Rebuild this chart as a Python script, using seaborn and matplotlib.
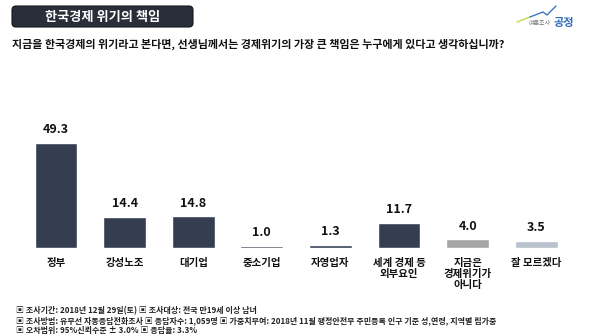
import matplotlib
matplotlib.use("Agg")
import matplotlib.pyplot as plt
from matplotlib.patches import FancyBboxPatch
import seaborn as sns

# Survey results (%)
categories = ["정부", "강성노조", "대기업", "중소기업", "자영업자",
              "세계 경제 등\n외부요인", "지금은\n경제위기가\n아니다", "잘 모르겠다"]
values = [49.3, 14.4, 14.8, 1.0, 1.3, 11.7, 4.0, 3.5]
bar_colors = ["#353e50"] * 6 + ["#a6a6a6", "#b9c2ce"]

title = "한국경제 위기의 책임"
question = "지금을 한국경제의 위기라고 본다면, 선생님께서는 경제위기의 가장 큰 책임은 누구에게 있다고 생각하십니까?"
footer_lines = [
    "▣ 조사기간: 2018년 12월 29일(토) ▣ 조사대상: 전국 만19세 이상 남녀",
    "▣ 조사방법: 유무선 자동응답전화조사 ▣ 응답자수: 1,059명 ▣ 가중치부여: 2018년 11월 행정안전부 주민등록 인구 기준 성,연령, 지역별 림가중",
    "▣ 오차범위: 95%신뢰수준 ± 3.0% ▣ 응답율: 3.3%",
]

sns.set_theme(style="white")
plt.rcParams["font.family"] = ["Noto Sans CJK KR", "DejaVu Sans"]

W, H = 599, 334
fig = plt.figure(figsize=(W / 100, H / 100), dpi=100)
fig.patch.set_facecolor("white")

# Bar chart area
left_px, right_px = 21.7, 570.5
bottom_px, top_px = 248, 120.2
ax = fig.add_axes([left_px / W, 1 - bottom_px / H,
                   (right_px - left_px) / W, (bottom_px - top_px) / H])
sns.barplot(x=list(range(len(values))), y=values, hue=list(range(len(values))),
            palette=bar_colors, width=0.625, legend=False, ax=ax,
            saturation=1)
ax.set_xlim(-0.5, len(values) - 0.5)
ax.set_ylim(0, 60)
for cont in ax.containers:
    ax.bar_label(cont, fmt="%.1f", padding=5, fontsize=9, fontweight="bold",
                 color="#111111")
ax.set_xticks(range(len(categories)))
ax.set_xticklabels(categories, fontsize=7.5, fontweight="bold", color="#111111",
                   linespacing=1.15)
ax.tick_params(axis="x", length=0, pad=7)
ax.set_yticks([])
ax.set_xlabel("")
ax.set_ylabel("")
for s in ax.spines.values():
    s.set_visible(False)
ax.patch.set_alpha(0)

# Overlay for header, logo and footer in pixel coordinates
ov = fig.add_axes([0, 0, 1, 1], zorder=-1)
ov.set_xlim(0, W)
ov.set_ylim(H, 0)
ov.axis("off")

box = FancyBboxPatch((12, 6), 181, 21, boxstyle="round,pad=0,rounding_size=4",
                     facecolor="#2a2e39", edgecolor="#15171d", linewidth=0.8)
ov.add_patch(box)
ov.text(102.5, 16.5, title, color="white", fontsize=9.5, fontweight="bold",
        ha="center", va="center")

ov.text(12, 44, question, color="#111111", fontsize=7.95, fontweight="bold",
        ha="left", va="center")

# Logo
ov.plot([517, 530], [22, 17], color="#c9d64a", lw=1.0, solid_capstyle="round")
ov.plot([530, 543, 547, 556], [17, 12, 15, 6], color="#3f78c0", lw=1.0,
        solid_capstyle="round")
ov.text(551, 23.5, "여론조사", color="#777777", fontsize=4.3, ha="right",
        va="center")
ov.text(553, 22.5, "공정", color="#2e6bb8", fontsize=8, fontweight="bold",
        ha="left", va="center")

for i, line in enumerate(footer_lines):
    ov.text(16, 311 + i * 9.5, line, color="#222222", fontsize=5.75,
            fontweight="bold", ha="left", va="center")

fig.savefig("out.png", dpi=100, facecolor="white")
